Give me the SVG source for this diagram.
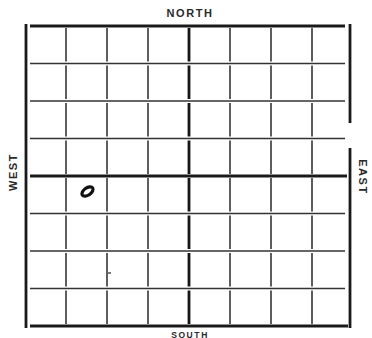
<svg xmlns="http://www.w3.org/2000/svg" width="372" height="338" viewBox="0 0 372 338">
<style>
.bg{fill:#ffffff}
.thin{stroke:#333333;stroke-width:1.3;fill:none}
.v{stroke:#2a2a2a;stroke-width:1.5;fill:none;stroke-dasharray:33.5 4}
.vc{stroke:#161616;stroke-width:2.8;fill:none;stroke-dasharray:33.5 4}
.thick{stroke:#1a1a1a;stroke-width:2.8;fill:none}
.lbl{font-family:"Liberation Sans",Arial,sans-serif;font-weight:bold;font-size:11px;letter-spacing:1.6px;fill:#2a2a2a;text-anchor:middle}
</style>
<rect class="bg" x="0" y="0" width="372" height="338"/>
<g id="grid">
  <g id="horizontals">
    <line class="thin" x1="30" y1="63.5" x2="345" y2="63.5"/>
    <line class="thin" x1="30" y1="101" x2="345" y2="101"/>
    <line class="thin" x1="30" y1="138.5" x2="345" y2="138.5"/>
    <line class="thick" x1="30" y1="176" x2="347" y2="176"/>
    <line class="thin" x1="30" y1="213.5" x2="345" y2="213.5"/>
    <line class="thin" x1="30" y1="251" x2="345" y2="251"/>
    <line class="thin" x1="30" y1="288.5" x2="345" y2="288.5"/>
  </g>
  <g id="verticals">
    <line class="v" x1="66" y1="28" x2="66" y2="324"/>
    <line class="v" x1="107" y1="28" x2="107" y2="324"/>
    <line class="v" x1="148" y1="28" x2="148" y2="324"/>
    <line class="vc" x1="189" y1="28" x2="189" y2="324"/>
    <line class="v" x1="230" y1="28" x2="230" y2="324"/>
    <line class="v" x1="271" y1="28" x2="271" y2="324"/>
    <line class="v" x1="312" y1="28" x2="312" y2="324"/>
  </g>
  <g id="border">
    <line class="thick" x1="30" y1="26" x2="345" y2="26"/>
    <line class="thick" x1="30" y1="326" x2="348" y2="326"/>
    <line class="thick" x1="26" y1="24" x2="26" y2="328"/>
    <line class="thick" x1="350" y1="24" x2="350" y2="123"/>
    <line class="thick" x1="350" y1="148" x2="350" y2="328"/>
  </g>
  <line class="thin" x1="108" y1="273" x2="111" y2="273" stroke-width="1.6"/>
</g>
<g id="marker">
  <ellipse cx="87.5" cy="191.5" rx="6.3" ry="3.6" transform="rotate(-35 87.5 191.5)" fill="none" stroke="#111" stroke-width="3.2"/>
</g>
<g id="labels">
  <text class="lbl" x="190" y="16.5">NORTH</text>
  <text class="lbl" x="190" y="337.5" style="font-size:8.5px">SOUTH</text>
  <text class="lbl" transform="translate(16.5 172) rotate(-90)">WEST</text>
  <text class="lbl" transform="translate(358.5 177) rotate(90)">EAST</text>
</g>
</svg>
